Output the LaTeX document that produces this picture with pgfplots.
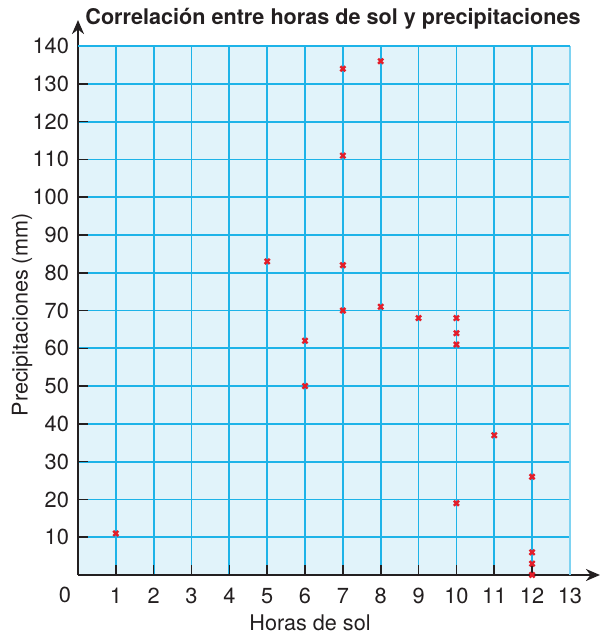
\documentclass[border=0pt]{standalone}
\usepackage{pgfplots}
\pgfplotsset{compat=1.18}
\usepackage{fontspec}
\setmainfont{TeX Gyre Heros}
\usetikzlibrary{arrows.meta}
\definecolor{bgblue}{HTML}{E1F3FA}
\definecolor{gridblue}{HTML}{1DB3E8}
\definecolor{edgeblue}{HTML}{7ED3F2}
\definecolor{markred}{HTML}{E31E2A}
\definecolor{axisdark}{HTML}{231F20}
\begin{document}
\begin{tikzpicture}
\begin{axis}[
  at={(0,0)}, anchor=origin,
  x=18.92pt, y=1.889pt,
  xmin=0, xmax=13, ymin=0, ymax=140,
  axis lines=left,
  axis line style={draw=axisdark, line width=1pt},
  x axis line style={-{Stealth[length=7pt,width=6pt]}, shorten >=-15pt},
  y axis line style={-{Stealth[length=7pt,width=6pt]}, shorten >=-13pt},
  axis background/.style={fill=bgblue},
  xtick={1,...,13}, ytick={10,20,...,140},
  tick align=inside, tick pos=left,
  major tick length=5pt,
  tick style={draw=axisdark, line width=0.8pt},
  grid=major,
  major grid style={draw=gridblue, line width=0.9pt},
  tick label style={font=\fontsize{10.9}{12}\selectfont, text=axisdark},
  /pgf/number format/assume math mode=true,
  xticklabel style={yshift=-3pt},
  yticklabel style={xshift=-1pt},
  clip=false,
]
\addplot[only marks, mark=x, mark size=1.8pt, mark options={draw=markred, line width=1.2pt}] coordinates {
 (1,11) (5,83) (6,62) (6,50) (7,134) (7,111) (7,82) (7,70)
 (8,136) (8,71) (9,68) (10,68) (10,64) (10,61) (10,19)
 (11,37) (12,26) (12,6) (12,3) (12,0)
};
\draw[edgeblue, line width=0.9pt] (axis cs:13,0) -- (axis cs:13,140);
\draw[gridblue, line width=0.9pt] (axis cs:0,140) -- (axis cs:13,140);
\end{axis}
\node[text=axisdark, font=\fontsize{10.9}{12}\selectfont] at (-6.5pt,-10pt) {0};
\node[text=axisdark, font=\fontsize{10.8}{12}\selectfont] at (116pt,-24pt) {Horas de sol};
\node[text=axisdark, font=\fontsize{10.8}{12}\selectfont, rotate=90] at (-28pt,130pt) {Precipitaciones (mm)};
\node[text=axisdark, font=\bfseries\fontsize{10.8}{12}\selectfont] at (127.5pt,278pt) {Correlación entre horas de sol y precipitaciones};
\pgfresetboundingbox
\useasboundingbox (-39pt,-30pt) rectangle (260.5pt,287.5pt);
\end{tikzpicture}
\end{document}
